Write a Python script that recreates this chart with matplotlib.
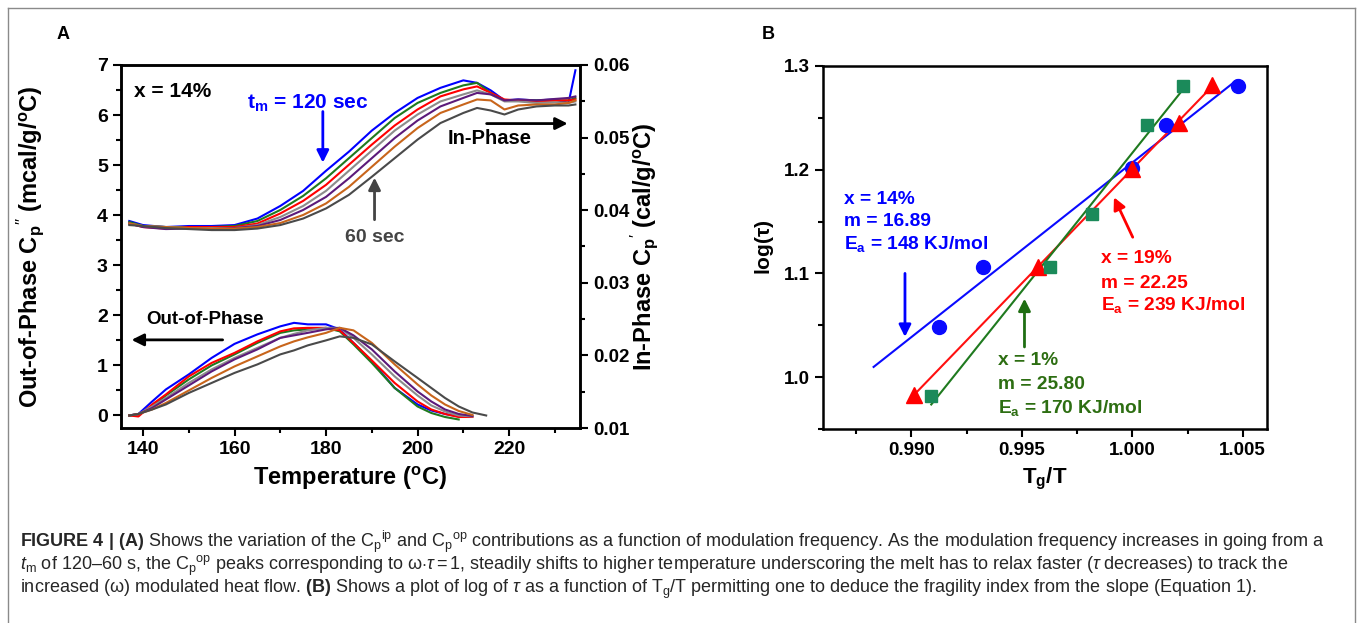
import matplotlib
matplotlib.use("Agg")
import matplotlib.pyplot as plt
import numpy as np
from matplotlib.lines import Line2D
from matplotlib.ticker import MultipleLocator

plt.rcParams["font.family"] = ["Liberation Sans", "DejaVu Sans"]
plt.rcParams["mathtext.fontset"] = "custom"
plt.rcParams["mathtext.rm"] = "Liberation Sans"
plt.rcParams["mathtext.it"] = "Liberation Sans:italic"
plt.rcParams["mathtext.bf"] = "Liberation Sans:bold"

# ---- panel A data: modulated DSC, x = 14 %, t_m from 120 s (blue) to 60 s (dark gray)
curve_colors = ["#0000ff", "#1f7a1f", "#ff0000", "#8c8c8c", "#5c1a7a", "#c8651b", "#4a4a4a"]

temp_ip = [137, 140, 145, 150, 155, 160, 165, 170, 175, 180, 185, 190,
           195, 200, 205, 210, 213, 216, 219, 222, 226, 230, 233, 234.5]
cp_ip = [
    [0.03851, 0.03795, 0.03768, 0.03782, 0.03782, 0.03795, 0.03885, 0.04058, 0.04266, 0.04543, 0.04806, 0.05096,
     0.05339, 0.05546, 0.05685, 0.05788, 0.05754, 0.05650, 0.05512, 0.05525, 0.05512, 0.05525, 0.05477, 0.05927],
    [0.03837, 0.03782, 0.03768, 0.03768, 0.03768, 0.03782, 0.03851, 0.04003, 0.04197, 0.04439, 0.04716, 0.04993,
     0.05269, 0.05477, 0.05615, 0.05719, 0.05754, 0.05615, 0.05512, 0.05512, 0.05512, 0.05512, 0.05512, 0.05546],
    [0.03816, 0.03768, 0.03747, 0.03768, 0.03768, 0.03768, 0.03816, 0.03955, 0.04128, 0.04349, 0.04626, 0.04903,
     0.05166, 0.05387, 0.05567, 0.05664, 0.05705, 0.05615, 0.05525, 0.05512, 0.05498, 0.05512, 0.05512, 0.05525],
    [0.03816, 0.03782, 0.03768, 0.03754, 0.03754, 0.03754, 0.03795, 0.03906, 0.04058, 0.04266, 0.04543, 0.04820,
     0.05096, 0.05318, 0.05498, 0.05595, 0.05650, 0.05595, 0.05498, 0.05498, 0.05477, 0.05484, 0.05477, 0.05498],
    [0.03816, 0.03768, 0.03740, 0.03747, 0.03740, 0.03754, 0.03782, 0.03865, 0.04003, 0.04183, 0.04439, 0.04716,
     0.04993, 0.05235, 0.05429, 0.05546, 0.05615, 0.05595, 0.05512, 0.05525, 0.05512, 0.05532, 0.05546, 0.05567],
    [0.03816, 0.03782, 0.03768, 0.03754, 0.03747, 0.03747, 0.03768, 0.03823, 0.03934, 0.04093, 0.04321, 0.04598,
     0.04875, 0.05131, 0.05339, 0.05456, 0.05525, 0.05512, 0.05387, 0.05442, 0.05456, 0.05456, 0.05477, 0.05512],
    [0.03795, 0.03782, 0.03754, 0.03740, 0.03726, 0.03726, 0.03747, 0.03795, 0.03885, 0.04024, 0.04211, 0.04460,
     0.04716, 0.04972, 0.05200, 0.05339, 0.05408, 0.05373, 0.05318, 0.05387, 0.05429, 0.05442, 0.05442, 0.05456],
]

nan = np.nan
temp_op = [137, 139, 142, 145, 150, 155, 160, 165, 170, 173, 176, 180,
           183, 186, 190, 195, 200, 203, 206, 209, 212, 215]
cp_op = [
    [0.00, 0.03, 0.28, 0.52, 0.82, 1.15, 1.43, 1.62, 1.78, 1.85, 1.82, 1.82,
     1.72, 1.45, 1.08, 0.55, 0.22, 0.10, 0.03, -0.02, nan, nan],
    [0.00, 0.02, 0.18, 0.40, 0.72, 1.00, 1.22, 1.45, 1.65, 1.70, 1.72, 1.75,
     1.68, 1.42, 1.05, 0.55, 0.18, 0.05, -0.03, -0.08, nan, nan],
    [0.00, -0.02, 0.22, 0.42, 0.78, 1.05, 1.25, 1.48, 1.68, 1.74, 1.75, 1.75,
     1.70, 1.45, 1.10, 0.65, 0.28, 0.12, 0.03, -0.03, -0.03, nan],
    [0.00, 0.03, 0.18, 0.35, 0.65, 0.92, 1.15, 1.35, 1.55, 1.63, 1.70, 1.75,
     1.75, 1.55, 1.22, 0.78, 0.40, 0.20, 0.08, 0.00, -0.02, nan],
    [0.00, 0.03, 0.15, 0.32, 0.60, 0.88, 1.12, 1.32, 1.55, 1.60, 1.65, 1.72,
     1.75, 1.60, 1.32, 0.88, 0.48, 0.28, 0.12, 0.03, -0.01, nan],
    [0.00, 0.03, 0.12, 0.25, 0.50, 0.75, 0.98, 1.18, 1.38, 1.48, 1.56, 1.65,
     1.75, 1.70, 1.45, 1.02, 0.62, 0.40, 0.22, 0.09, 0.01, nan],
    [0.00, 0.03, 0.12, 0.22, 0.45, 0.65, 0.85, 1.02, 1.22, 1.30, 1.40, 1.50,
     1.58, 1.55, 1.42, 1.08, 0.75, 0.55, 0.35, 0.18, 0.06, 0.00],
]

# ---- panel B data: log(tau) vs Tg/T
tg_x14 = [0.99124, 0.99326, 1.00000, 1.00154, 1.00480]
logtau_x14 = [1.048, 1.106, 1.202, 1.243, 1.281]
tg_x19 = [0.99010, 0.99574, 1.00000, 1.00210, 1.00361]
logtau_x19 = [0.983, 1.106, 1.201, 1.245, 1.282]
tg_x1 = [0.99090, 0.99628, 0.99819, 1.00065, 1.00228]
logtau_x1 = [0.982, 1.106, 1.157, 1.243, 1.281]

fit_range_x14 = (0.98829, 1.0047)
fit_range_x19 = (0.9901, 1.0036)
fit_range_x1 = (0.9909, 1.0025)

BOLD = dict(fontweight="bold")


def style_ticks(a, size):
    a.tick_params(which="major", direction="out", length=6, width=1.5, labelsize=size)
    a.tick_params(which="minor", direction="out", length=3.5, width=1.5)
    for lab in a.get_xticklabels() + a.get_yticklabels():
        lab.set_fontweight("bold")


def arrow(a, tail, head, color):
    a.annotate("", xy=head, xytext=tail,
               arrowprops=dict(arrowstyle="-|>", color=color, lw=2,
                               mutation_scale=18, shrinkA=0, shrinkB=0))


fig = plt.figure(figsize=(13.57, 6.23), dpi=100)

# ================= panel A =================
ax = fig.add_axes([0.0892, 0.3130, 0.3382, 0.5827])
ax2 = ax.twinx()

for c, ys in zip(curve_colors, cp_op):
    ax.plot(temp_op, ys, color=c, lw=1.5)
for c, ys in zip(curve_colors, cp_ip):
    ax2.plot(temp_ip, ys, color=c, lw=1.5)

ax.set_xlim(135.2, 235.5)
ax.set_ylim(-0.25, 7)
ax2.set_ylim(0.01, 0.06)
ax.xaxis.set_major_locator(MultipleLocator(20))
ax.xaxis.set_minor_locator(MultipleLocator(10))
ax.yaxis.set_major_locator(MultipleLocator(1))
ax.yaxis.set_minor_locator(MultipleLocator(0.5))
ax2.yaxis.set_major_locator(MultipleLocator(0.01))
ax2.yaxis.set_minor_locator(MultipleLocator(0.005))
ax2.set_yticklabels([f"{v:.2f}" for v in ax2.get_yticks()])
for sp in list(ax.spines.values()) + list(ax2.spines.values()):
    sp.set_linewidth(1.8)
style_ticks(ax, 14)
style_ticks(ax2, 13.5)

ax.set_xlabel(r"Temperature ($^\mathbf{o}$C)", fontsize=17, va="center", **BOLD)
ax.xaxis.set_label_coords(0.499, -0.138)
ax.set_ylabel(r"Out-of-Phase C$_\mathbf{p}$$^{\prime\prime}$ (mcal/g/$^\mathbf{o}$C)",
              fontsize=17, va="center", **BOLD)
ax.yaxis.set_label_coords(-0.198, 0.5)
ax2.set_ylabel(r"In-Phase C$_\mathbf{p}$$^{\prime}$ (cal/g/$^\mathbf{o}$C)",
               fontsize=17, va="center", **BOLD)
ax2.yaxis.set_label_coords(1.139, 0.5)

ax.text(0.028, 0.926, "x = 14%", transform=ax.transAxes, fontsize=15, va="center", **BOLD)
ax.text(0.275, 0.895, r"t$_\mathbf{m}$ = 120 sec", transform=ax.transAxes, fontsize=15,
        va="center", color="#0000ff", **BOLD)
arrow(ax, (179.3, 6.07), (179.3, 5.05), "#0000ff")
ax.text(190.6, 3.55, "60 sec", fontsize=14, ha="center", va="center", color="#444444", **BOLD)
arrow(ax, (190.6, 3.91), (190.6, 4.75), "#444444")
ax.text(215.8, 5.53, "In-Phase", fontsize=14.5, ha="center", va="center", **BOLD)
arrow(ax, (215.1, 5.83), (232.8, 5.83), "black")
ax.text(153.5, 1.91, "Out-of-Phase", fontsize=13.5, ha="center", va="center", **BOLD)
arrow(ax, (157.4, 1.51), (137.5, 1.51), "black")

# ================= panel B =================
bx = fig.add_axes([0.6065, 0.3114, 0.3272, 0.5827])

series = [
    (tg_x14, logtau_x14, fit_range_x14, "o", 10, "#0a0aff", "#0a0aff"),
    (tg_x19, logtau_x19, fit_range_x19, "^", 11.5, "#ff0000", "#ff1010"),
    (tg_x1, logtau_x1, fit_range_x1, "s", 9, "#1b8a5a", "#1f7a1f"),
]
for xs, ys, rng, mk, ms, mc, lc in series:
    bx.plot(xs, ys, ls="none", marker=mk, ms=ms, color=mc, zorder=3)
    slope, icpt = np.polyfit(xs, ys, 1)
    xf = np.array(rng)
    bx.plot(xf, slope * xf + icpt, color=lc, lw=1.5, zorder=2)

bx.set_xlim(0.986, 1.0061)
bx.set_ylim(0.95, 1.3)
bx.xaxis.set_major_locator(MultipleLocator(0.005))
bx.xaxis.set_minor_locator(MultipleLocator(0.0025))
bx.yaxis.set_major_locator(MultipleLocator(0.1))
bx.yaxis.set_minor_locator(MultipleLocator(0.05))
bx.set_xticklabels([f"{v:.3f}" for v in bx.get_xticks()])
bx.set_yticklabels([f"{v:.1f}" for v in bx.get_yticks()])
for sp in bx.spines.values():
    sp.set_linewidth(1.8)
style_ticks(bx, 13.5)
bx.set_xlabel(r"T$_\mathbf{g}$/T", fontsize=16, va="center", **BOLD)
bx.xaxis.set_label_coords(0.5, -0.138)
bx.set_ylabel(r"log($\mathbf{\tau}$)", fontsize=15, va="center", **BOLD)
bx.yaxis.set_label_coords(-0.131, 0.5)

notes = [
    ("#0000ff", 0.98696, [1.1712, 1.1500, 1.1279], ["x = 14%", "m = 16.89", r"E$_\mathbf{a}$ = 148 KJ/mol"]),
    ("#ff0000", 0.99860, [1.1144, 1.0907, 1.0692], ["x = 19%", "m = 22.25", r"E$_\mathbf{a}$ = 239 KJ/mol"]),
    ("#2d6e12", 0.99391, [1.0163, 0.9933, 0.9702], ["x = 1%", "m = 25.80", r"E$_\mathbf{a}$ = 170 KJ/mol"]),
]
for col, x0, ys, lines in notes:
    for y0, s in zip(ys, lines):
        bx.text(x0, y0, s, color=col, fontsize=13.8, va="center", **BOLD)
arrow(bx, (0.98971, 1.1000), (0.98971, 1.0388), "#0000ff")
arrow(bx, (1.00002, 1.1349), (0.99917, 1.1734), "#ff0000")
arrow(bx, (0.99512, 1.0291), (0.99512, 1.0757), "#1f6e12")

# panel letters
fig.text(0.0464, 0.944, "A", fontsize=13, ha="center", va="center", **BOLD)
fig.text(0.566, 0.944, "B", fontsize=13, ha="center", va="center", **BOLD)

# caption
cap_color = "#262626"
caption = [
    r"$\mathbf{FIGURE\ 4\ |\ (A)}$ Shows the variation of the C$_\mathrm{p}$$^\mathrm{ip}$ and "
    r"C$_\mathrm{p}$$^\mathrm{op}$ contributions as a function of modulation frequency. As the "
    r"modulation frequency increases in going from a",
    r"$t_\mathrm{m}$ of 120–60 s, the C$_\mathrm{p}$$^\mathrm{op}$ peaks corresponding to "
    r"$\mathrm{\omega}{\cdot}\tau = 1$, steadily shifts to higher temperature underscoring the melt "
    r"has to relax faster ($\tau$ decreases) to track the",
    r"increased ($\mathrm{\omega}$) modulated heat flow. $\mathbf{(B)}$ Shows a plot of log of $\tau$ "
    r"as a function of T$_\mathrm{g}$/T permitting one to deduce the fragility index from the slope "
    r"(Equation 1).",
]
for i, line in enumerate(caption):
    fig.text(20 / 1357, 1 - (542 + 23.5 * i) / 623, line, fontsize=13.0, color=cap_color, va="center")

# outer frame of the figure panel
fr = "#8a8a8a"
fig.add_artist(Line2D([0.0059, 0.0059], [0.0, 0.9872], transform=fig.transFigure, color=fr, lw=1))
fig.add_artist(Line2D([0.9985, 0.9985], [0.0, 0.9872], transform=fig.transFigure, color=fr, lw=1))
fig.add_artist(Line2D([0.0059, 0.9985], [0.9872, 0.9872], transform=fig.transFigure, color=fr, lw=1))

fig.savefig("out.png", dpi=100)
